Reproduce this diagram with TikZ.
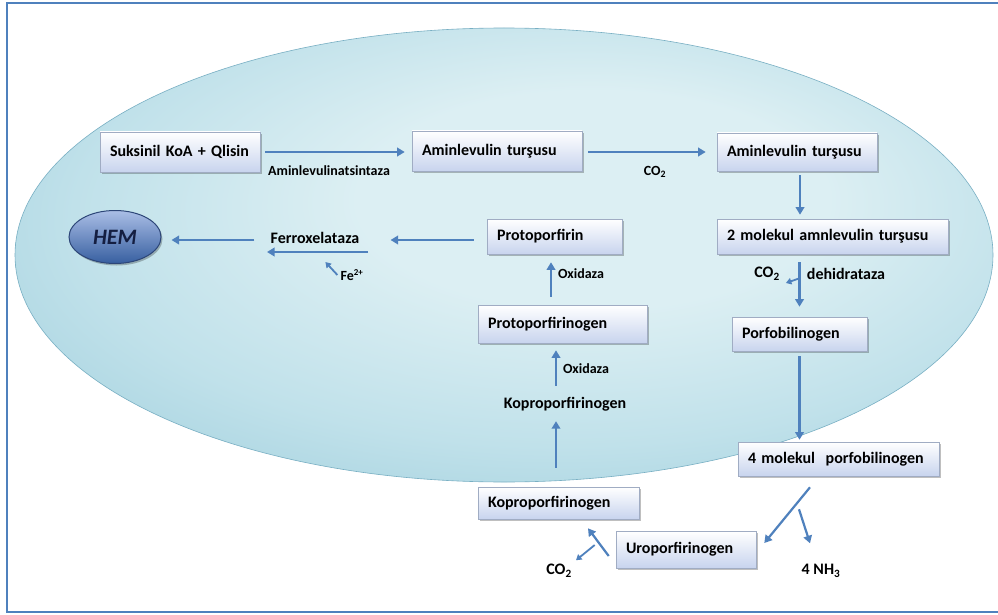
\documentclass[tikz,border=0pt]{standalone}
\usepackage{fontspec}
\setmainfont{Carlito}
\usetikzlibrary{arrows.meta,shadows,calc,shapes.geometric}
\definecolor{arrowblue}{RGB}{79,129,189}
\definecolor{framecol}{RGB}{79,129,189}
\definecolor{boxbot}{RGB}{200,212,238}
\definecolor{boxline}{RGB}{160,172,195}
\definecolor{ellin}{RGB}{220,239,243}
\definecolor{ellmid}{RGB}{192,225,234}
\definecolor{ellout}{RGB}{160,207,221}
\definecolor{ellline}{RGB}{120,175,195}
\definecolor{hemtop}{RGB}{170,190,230}
\definecolor{hembot}{RGB}{55,95,160}
\definecolor{hemline}{RGB}{45,70,120}
\definecolor{hemtext}{RGB}{20,30,65}
\pgfdeclareradialshading{cellshade}{\pgfpoint{6bp}{8bp}}{%
  color(0bp)=(ellin); color(12bp)=(ellin); color(25bp)=(ellmid); color(36bp)=(ellout); color(50bp)=(ellout)}
\tikzset{
  box/.style={draw=boxline, line width=0.6pt, top color=white, bottom color=boxbot,
    inner xsep=10pt, inner ysep=0pt, align=left,
    font=\fontsize{16}{19}\selectfont\bfseries,
    drop shadow={shadow xshift=1.5pt, shadow yshift=-2pt, fill=black, opacity=0.25}},
  lbl/.style={inner sep=0pt, font=\fontsize{16}{19}\selectfont\bfseries},
  sm/.style={inner sep=0pt, font=\fontsize{14}{17}\selectfont\bfseries},
  arr/.style={draw=arrowblue, line width=2.2pt, -{Triangle[length=7.5pt,width=8.5pt]}},
  arrs/.style={draw=arrowblue, line width=1.8pt, -{Triangle[length=5.5pt,width=6.5pt]}}
}
\begin{document}
\begin{tikzpicture}[x=1pt,y=-1pt]
\useasboundingbox (0,0) rectangle (998,615);
\fill[white] (0,0) rectangle (998,615);
\draw[framecol, line width=1.5pt] (998,3) -- (7,3) -- (7,612) -- (998,612);
% big cell ellipse
\path[draw=ellline, line width=0.6pt, shading=cellshade]
  (504,255) ellipse [x radius=489, y radius=227];

% boxes
\node[box, text width=140, minimum height=40] (suk) at (180,152) {Suksinil KoA + Qlisin};
\node[box, text width=150, minimum height=40] (am1) at (497,151) {Aminlevulin turşusu};
\node[box, text width=140, minimum height=38] (am2) at (797,152) {Aminlevulin turşusu};
\node[box, text width=211, minimum height=35] (mol2) at (832.5,236.5) {2 molekul amnlevulin turşusu};
\node[box, text width=115, minimum height=35] (proto) at (554.5,236.5) {Protoporfirin};
\node[box, text width=149, minimum height=38] (protog) at (562.5,324) {Protoporfirinogen};
\node[box, text width=115, minimum height=34] (porfo) at (799.5,334) {Porfobilinogen};
\node[box, text width=181, minimum height=34] (mol4) at (838.5,459) {4 molekul\ \ porfobilinogen};
\node[box, text width=141, minimum height=32] (kopbox) at (558.5,503) {Koproporfirinogen};
\node[box, text width=120, minimum height=37] (uro) at (686,549.5) {Uroporfirinogen};

\node[ellipse, draw=hemline, line width=1pt, top color=hemtop, bottom color=hembot,
  minimum width=92, minimum height=53, inner sep=0pt, text=hemtext,
  font=\fontsize{22}{26}\selectfont\bfseries\itshape,
  drop shadow={shadow xshift=1.5pt, shadow yshift=-2pt, fill=black, opacity=0.25}] (hem) at (115,237) {HEM};

% free texts
\node[lbl] (ferro) at (315,238) {Ferroxelataza};
\node[lbl] (koptxt) at (565,404) {Koproporfirinogen};
\node[lbl] (co2c) at (767,274) {CO\textsubscript{2}};
\node[lbl] (dehi) at (846,274) {dehidrataza};
\node[lbl] (co2b) at (559,571) {CO\textsubscript{2}};
\node[lbl] (nh3) at (821,571) {4 NH\textsubscript{3}};
\node[sm] (ams) at (329,171) {Aminlevulinatsintaza};
\node[sm] (co2a) at (655,172) {CO\textsubscript{2}};
\node[sm] (ox1) at (581,274) {Oxidaza};
\node[sm] (ox2) at (586,369) {Oxidaza};
\node[sm] (fe) at (352,275) {Fe\textsuperscript{\fontsize{9}{10}\selectfont 2+}};

% connectors
\draw[arr, shorten <=5pt, shorten >=7pt] (suk.east) -- (suk.east -| am1.west);
\draw[arr, shorten <=6pt, shorten >=11pt] ([yshift=-1pt]am1.east) -- ([yshift=-1pt]am1.east -| am2.west);
\draw[arr, shorten <=4pt, shorten >=4pt] ([xshift=3pt]am2.south) -- ([xshift=3pt]am2.south |- mol2.north);
\draw[arr, shorten <=8pt, shorten >=10pt] (porfo.north |- mol2.south) -- (porfo.north);
\coordinate (cobr) at ($(porfo.north |- mol2.south)+(0,24)$);
\draw[arrs] (cobr) -- ($(co2c.east)+(6,9)$);
\draw[arr, shorten <=5pt, shorten >=2pt] (porfo.south) -- (porfo.south |- mol4.north);
\draw[arr] ($(mol4.south)+(-28.5,11)$) -- ($(uro.east)+(8,-6.5)$);
\coordinate (nb) at ($(mol4.south)+(-39.5,33)$);
\draw[arr] (nb) -- ($(nh3.north)+(-11,-21)$);
\draw[arr] ($(uro.west)+(-7,6.5)$) -- ($(kopbox.south)+(29.5,9)$);
\coordinate (cb2) at ($(uro.west)+(-21,-4.5)$);
\draw[arrs] (cb2) -- ($(co2b.north)+(17,-4)$);
\draw[arr, shorten <=19pt, shorten >=10pt] ([xshift=-2.5pt]kopbox.north) -- ([xshift=-2.5pt]kopbox.north |- koptxt.south);
\draw[arr, shorten <=11pt, shorten >=7pt] ([xshift=-6.5pt]protog.south |- koptxt.north) -- ([xshift=-6.5pt]protog.south);
\draw[arr, shorten <=8pt, shorten >=8pt] ([xshift=-11.5pt]protog.north) -- ([xshift=-11.5pt]protog.north |- proto.south);
\draw[arr, shorten <=13pt, shorten >=31pt] ([yshift=-3.5pt]proto.west) -- ([yshift=-3.5pt]proto.west -| ferro.east);
\draw[arr, shorten <=16pt, shorten >=10pt] ([yshift=-2pt]ferro.west) -- ([yshift=-2pt]ferro.west -| hem.east);
\draw[arr] ($(ferro.center)+(53,14)$) -- ($(ferro.center)+(-48,14)$);
\draw[arrs] ($(fe.west)+(-3,0)$) -- ($(fe.west)+(-15,-13)$);
\end{tikzpicture}
\end{document}
